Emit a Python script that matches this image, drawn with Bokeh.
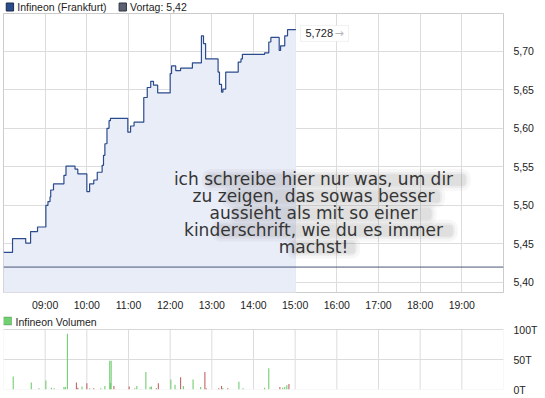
from bokeh.plotting import figure
from bokeh.models import Range1d, FixedTicker, Label, BoxAnnotation, Span
from bokeh.core.properties import value
from bokeh.layouts import column
from bokeh.embed import file_html
from bokeh.resources import INLINE

# Infineon intraday quotes, Frankfurt (price changes, step after)
price_times = ["08:00", "08:13", "08:32", "08:39", "08:49", "09:01", "09:04", "09:07",
               "09:08", "09:12", "09:27", "09:30", "09:43", "09:47", "10:00", "10:04",
               "10:10", "10:15", "10:22", "10:24", "10:26", "10:29", "10:32", "10:34",
               "10:59", "11:03", "11:08", "11:22", "11:27", "11:32", "11:36", "11:42",
               "12:00", "12:02", "12:08", "12:15", "12:32", "12:45", "12:48", "12:51",
               "13:09", "13:11", "13:14", "13:16", "13:20", "13:38", "13:42", "13:44",
               "14:16", "14:22", "14:25", "14:37", "14:39", "14:45", "14:49", "15:01"]
price_values = [5.439, 5.457, 5.451, 5.466, 5.472, 5.500, 5.505, 5.511,
                5.520, 5.528, 5.539, 5.551, 5.547, 5.541, 5.518, 5.528,
                5.533, 5.543, 5.552, 5.565, 5.580, 5.600, 5.610, 5.613,
                5.595, 5.603, 5.608, 5.640, 5.653, 5.661, 5.656, 5.646,
                5.671, 5.681, 5.675, 5.678, 5.685, 5.720, 5.710, 5.690,
                5.673, 5.657, 5.647, 5.651, 5.673, 5.686, 5.690, 5.696,
                5.698, 5.712, 5.718, 5.701, 5.707, 5.720, 5.728, 5.728]
prev_close = 5.42

# traded volume in thousands of shares; 1 = uptick (green), 0 = downtick (red)
vol_times = ["08:14", "08:40", "08:51", "09:01", "09:09", "09:13", "09:27", "09:29",
             "09:32", "09:45", "09:47", "09:53", "10:00", "10:04", "10:10", "10:20",
             "10:26", "10:33", "10:34", "10:35", "10:39", "11:01", "11:09", "11:12",
             "11:18", "11:25", "11:31", "11:33", "11:40", "11:43", "12:01", "12:07",
             "12:15", "12:19", "12:33", "12:44", "12:50", "12:52", "13:10", "13:14",
             "13:16", "13:23", "13:39", "13:45", "14:16", "14:22", "14:38", "14:42",
             "14:45", "14:48", "14:51"]
vol_values = [21.7, 11.7, 2, 15, 3, 2, 4, 4,
              93, 11.7, 3, 5, 10.5, 2, 2, 2,
              6, 48, 11, 48, 6, 5, 2, 6,
              1, 29, 4, 5, 2, 10.5, 16.7, 8,
              20.5, 6, 16.7, 4, 29, 2, 2, 6,
              2, 2, 13, 2, 3, 35.5, 4, 3,
              4, 7, 9]
vol_up = [1, 1, 1, 1, 1, 1, 1, 1,
          1, 0, 0, 1, 0, 1, 0, 1,
          1, 1, 1, 1, 0, 0, 1, 1,
          1, 1, 1, 1, 0, 0, 1, 1,
          0, 1, 1, 1, 0, 0, 0, 0,
          1, 0, 1, 1, 1, 1, 0, 1,
          1, 1, 0]
vol_max = 100

hour_ticks = [9, 10, 11, 12, 13, 14, 15, 16, 17, 18, 19]
hour_labels = ["09:00", "10:00", "11:00", "12:00", "13:00", "14:00",
               "15:00", "16:00", "17:00", "18:00", "19:00"]
price_ticks = [5.40, 5.45, 5.50, 5.55, 5.60, 5.65, 5.70]
price_labels = ["5,40", "5,45", "5,50", "5,55", "5,60", "5,65", "5,70"]
vol_ticks = [0, 50, 100]
vol_labels = ["0T", "50T", "100T"]

note_lines = ["ich schreibe hier nur was, um dir",
              "zu zeigen, das sowas besser",
              "aussieht als mit so einer",
              "kinderschrift, wie du es immer",
              "machst!"]

# ---- layout constants (pixels) ----
W = 545
FONT = "Liberation Sans"
AX_SIZE = "10.5px"
GRID = "#dcdcdc"
OUTLINE = "#cccccc"
X0, X1 = 8.0, 20.0
Y0, Y1 = 5.387, 5.749
FL, FW = 3, 500          # frame left / width
FH = 280                 # price frame height
VH, VCAP = 60, 16        # volume plot height, caption band above it


def hours(s):
    h, m = s.split(":")
    return int(h) + int(m) / 60.0


def px_x(px):
    return X0 + (px - FL) * (X1 - X0) / FW


def px_y(py):
    # py measured from the top of the page; the price frame starts 13px down
    return Y1 - (py - 13) * (Y1 - Y0) / FH


def px_v(py):
    # py measured from the top of the page; the volume plot starts at 329
    return vol_max - (py - 329) * vol_max / VH


def fmt(v, nd):
    return f"{v:.{nd}f}".replace(".", ",")


def style_axis(ax, standoff):
    ax.axis_line_color = None
    ax.major_tick_line_color = None
    ax.minor_tick_line_color = None
    ax.major_label_text_font = FONT
    ax.major_label_text_font_size = AX_SIZE
    ax.major_label_text_color = "#222222"
    ax.major_label_standoff = standoff


tx = [hours(t) for t in price_times]

# ---------------- legend strip above the price panel ----------------
top = figure(width=W, height=13, x_range=Range1d(0, W), y_range=Range1d(13, 0),
             x_axis_location=None, y_axis_location=None, output_backend="svg",
             toolbar_location=None, min_border=0, outline_line_color=None,
             background_fill_color="white", border_fill_color="white")
top.grid.visible = False
for x, text, fill, line in [(3, "Infineon (Frankfurt)", "#2b4c8c", "#1b2a4a"),
                            (126, "Vortag: " + fmt(prev_close, 2), "#5d6273", "#2f3340")]:
    top.quad(left=[x], right=[x + 8], top=[2.5], bottom=[10.5], fill_color=fill, line_color=line)
    top.text(x=[x + 12], y=[6.5], text=[text], text_font=value(FONT),
             text_font_size=AX_SIZE, text_color="#222222", text_baseline="middle")

# ---------------- price panel ----------------
p = figure(width=W, height=300, x_range=Range1d(X0, X1), y_range=Range1d(Y0, Y1),
           y_axis_location="right", output_backend="svg", toolbar_location=None,
           min_border_left=FL, min_border_right=42, min_border_top=0, min_border_bottom=20,
           background_fill_color="white", border_fill_color="white")
p.outline_line_color = OUTLINE
style_axis(p.xaxis, 0)
style_axis(p.yaxis, 4)
p.xaxis.ticker = FixedTicker(ticks=hour_ticks)
p.xaxis.major_label_overrides = dict(zip(hour_ticks, hour_labels))
p.yaxis.ticker = FixedTicker(ticks=price_ticks)
p.yaxis.major_label_overrides = dict(zip(price_ticks, price_labels))
p.grid.grid_line_color = GRID

# filled area below the step line
fx, fy = [], []
for i in range(len(tx) - 1):
    fx += [tx[i], tx[i + 1]]
    fy += [price_values[i], price_values[i]]
p.varea(x=fx, y1=[Y0 - 0.01] * len(fx), y2=fy, fill_color="#e9edf8")

p.add_layout(Span(location=prev_close, dimension="width", line_color="#4a5578", line_width=1))
p.step(tx, price_values, mode="after", line_color="#2b4b8c", line_width=1.2)

# last price tag
last = price_values[-1]
p.add_layout(BoxAnnotation(left=px_x(300), right=px_x(348), top=px_y(25), bottom=px_y(41),
                           fill_color="white", fill_alpha=1, line_color="#d2d2d2", line_width=1))
p.add_layout(Label(x=px_x(305), y=px_y(33), text=fmt(last, 3), text_font=FONT,
                   text_font_size="11px", text_color="#222222", text_baseline="middle"))
p.add_layout(Label(x=px_x(334), y=px_y(33), text="\u2192", text_font="DejaVu Sans",
                   text_font_size="11px", text_color="#b5b5b5", text_baseline="middle"))

# note with a soft shadow
NOTE_FS = 17
note_cx = 313
for i, line in enumerate(note_lines):
    cy = 179 + 17 * i
    w = len(line) * 0.5 * NOTE_FS
    left = note_cx - w / 2 + 0.12 * w
    right = note_cx + w / 2 + 12
    for grow, alpha in ((5, 0.05), (2, 0.07), (0, 0.09)):
        p.add_layout(BoxAnnotation(left=px_x(left - grow), right=px_x(right + grow),
                                   top=px_y(cy - 5 - grow), bottom=px_y(cy + 7 + grow),
                                   fill_color="#666666", fill_alpha=alpha, line_color=None,
                                   border_radius=4 + grow))
for i, line in enumerate(note_lines):
    cy = 179 + 17 * i
    p.add_layout(Label(x=px_x(note_cx), y=px_y(cy), text=line, text_font="DejaVu Sans",
                       text_font_size=f"{NOTE_FS}px", text_color="#353535",
                       text_align="center", text_baseline="middle"))

# ---------------- volume panel (caption band on top of the plot area) ----------------
v = figure(width=W, height=85, x_range=Range1d(X0, X1),
           y_range=Range1d(0, vol_max * (VH + VCAP) / VH),
           x_axis_location=None, y_axis_location="right", output_backend="svg",
           toolbar_location=None, min_border_left=FL, min_border_right=42,
           min_border_top=0, min_border_bottom=9,
           background_fill_color="white", border_fill_color="white")
v.outline_line_color = None
style_axis(v.yaxis, 4)
v.yaxis.ticker = FixedTicker(ticks=vol_ticks)
v.yaxis.major_label_overrides = dict(zip(vol_ticks, vol_labels))
v.ygrid.grid_line_color = GRID
v.xgrid.visible = False
# hour lines and frame limited to the 0..100T band
v.segment(x0=hour_ticks, y0=[0] * len(hour_ticks), x1=hour_ticks, y1=[vol_max] * len(hour_ticks),
          line_color=GRID, line_width=1)
v.add_layout(BoxAnnotation(left=X0, right=X1, bottom=0, top=vol_max, fill_alpha=0,
                           line_color=OUTLINE, line_width=1))

bar_w = 1.1 * (X1 - X0) / FW
v.vbar(x=[hours(t) for t in vol_times], top=vol_values, width=bar_w,
       fill_color=["#72cc72" if u else "#c26666" for u in vol_up], line_color=None)

v.add_layout(BoxAnnotation(left=px_x(3), right=px_x(11), top=px_v(316.5), bottom=px_v(324.5),
                           fill_color="#6fd06f", fill_alpha=1, line_color="#2d5a2d"))
v.add_layout(Label(x=px_x(15), y=px_v(321), text="Infineon Volumen", text_font=FONT,
                   text_font_size=AX_SIZE, text_color="#222222", text_baseline="middle"))

layout = column(top, p, v)
open("out.html", "w").write(file_html(layout, INLINE))
